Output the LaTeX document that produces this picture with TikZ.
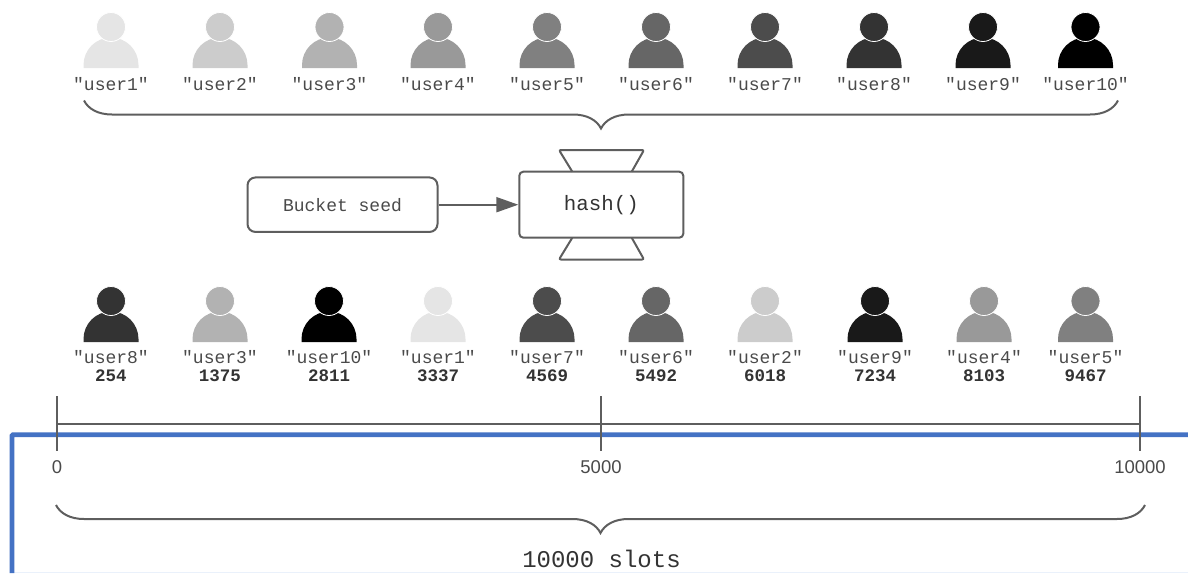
\documentclass[tikz,border=0pt]{standalone}
\usepackage{fontspec}
\setmainfont{Liberation Sans}
\setmonofont{Liberation Mono}
\usetikzlibrary{arrows.meta,decorations.pathreplacing}
\definecolor{linegray}{HTML}{5E5E5E}
\definecolor{textgray}{HTML}{4A4A4A}
\definecolor{slideblue}{HTML}{4472C4}
\definecolor{slidepale}{HTML}{EAF1FB}

\begin{document}
\begin{tikzpicture}[x=1pt,y=-1pt,
    userlabel/.style={text=textgray,inner sep=0,font=\ttfamily\fontsize{18pt}{18pt}\selectfont},
    slotvalue/.style={text=black!80,inner sep=0,font=\ttfamily\bfseries\fontsize{17.5pt}{18pt}\selectfont},
    ticklabel/.style={text=textgray,inner sep=0,font=\fontsize{18.5pt}{18pt}\selectfont},
    linebox/.style={draw=linegray,line width=2pt,align=center,inner sep=0},
    linepath/.style={draw=linegray,line width=2pt},
    bracepath/.style={linepath,decorate,decoration={brace,mirror,amplitude=28pt}}]
    \pgfmathsetmacro{\toprowy}{27}
    \pgfmathsetmacro{\botrowy}{301}
    \pgfmathsetmacro{\axisy}{423.5}
    \providecommand{\drawuser}[3]{
        \fill[#3] (#1-27.5,#2+41) -- ++(0,-3) arc[start angle=180,end angle=0,radius=27.5pt] -- ++(0,3) -- cycle;
        \fill[#3,draw=white,line width=.8pt] (#1,#2) circle[radius=14.5pt];
    }
    \useasboundingbox (0,0) rectangle (1188,573);
    % blue frame
    \draw[slidepale,line width=1.5pt] (12,572.5) -- (1188,572.5);
    \draw[slideblue,line width=4.8pt,rounded corners=1pt] (12,573) -- (12,434.8) -- (1188,434.8);
    % users before hashing
    \foreach \idx/\xpos in {1/111,2/220,3/329.5,4/438,5/547,6/656,7/765,8/874,9/983,10/1085.5}{
        \pgfmathtruncatemacro{\shade}{10*\idx}
        \drawuser{\xpos}{\toprowy}{black!\shade}
        \node[userlabel] (top\idx) at (\xpos,84) {"user\idx"};
    }
    \coordinate (topbracel) at (84,100.5);
    \coordinate (topbracer) at (1118,100.5);
    \draw[bracepath] (topbracel) -- (topbracer);
    % hash box
    \node[linebox,rounded corners=4pt,minimum width=164pt,minimum height=66pt,font=\ttfamily\fontsize{20.8pt}{21pt}\selectfont,text=black!80] (hash) at (601.3,204.7) {hash()};
    \node[linebox,rounded corners=8pt,minimum width=190pt,minimum height=54.5pt,font=\ttfamily\fontsize{18pt}{18pt}\selectfont,text=textgray] (seed) at (342.5,204.7) {Bucket seed};
    \draw[linepath,-{Triangle[length=22pt,width=15pt]},fill=linegray] (seed) -- (hash);
    \draw[linepath,rounded corners=2pt] (572.3,171.7) -- (559,150) -- (644,150) -- (631.7,171.7);
    \draw[linepath,rounded corners=2pt] (572.3,237.7) -- (559,259.5) -- (644,259.5) -- (631.7,237.7);
    % users after hashing
    \foreach \idx/\xpos/\slotval in {8/111/254,3/220/1375,10/329/2811,1/438/3337,7/547/4569,6/656/5492,2/765/6018,9/875/7234,4/984/8103,5/1085.5/9467}{
        \pgfmathtruncatemacro{\shade}{10*\idx}
        \drawuser{\xpos}{\botrowy}{black!\shade}
        \node[userlabel] (bot\idx) at (\xpos,357) {"user\idx"};
        \node[slotvalue] (val\idx) at (\xpos,375.5) {\slotval};
    }
    % slot axis
    \coordinate (axisl) at (57,\axisy);
    \coordinate (axisr) at (1140,\axisy);
    \draw[linepath] (axisl) -- (axisr);
    \foreach \xpos/\slotlabel in {57/0,601/5000,1140/10000}{
        \coordinate (tick\slotlabel) at (\xpos,396);
        \node[ticklabel] (lab\slotlabel) at (\xpos,467) {\slotlabel};
        \draw[linepath] (tick\slotlabel) -- (\xpos,451);
    }
    \coordinate (botbracel) at (56,505);
    \coordinate (botbracer) at (1145,505);
    \draw[bracepath] (botbracel) -- (botbracer);
    \node[text=black!80,inner sep=0,font=\ttfamily\fontsize{24pt}{24pt}\selectfont] (slots) at (601.5,558.5) {10000 slots};
\end{tikzpicture}
\end{document}
